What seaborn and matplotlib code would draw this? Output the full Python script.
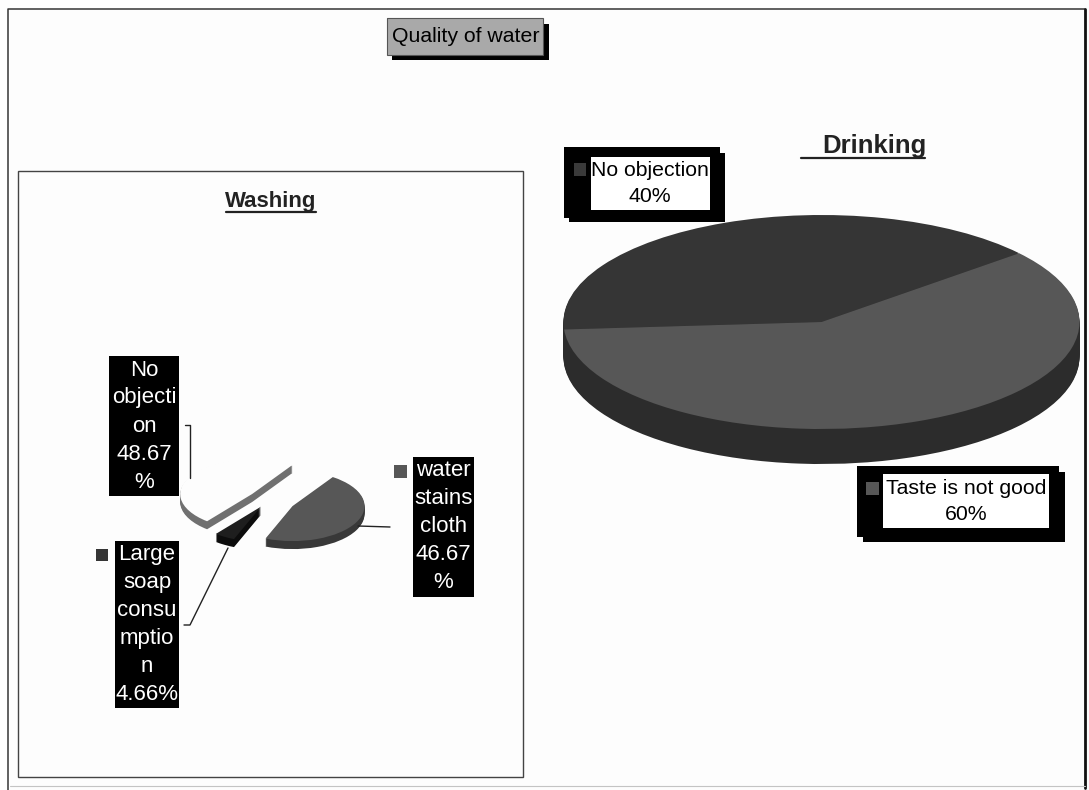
import numpy as np
import matplotlib
matplotlib.use("Agg")
import matplotlib.pyplot as plt
from matplotlib.patches import Rectangle
import seaborn as sns

sns.set_theme(style="white")
plt.rcParams["font.family"] = ["Liberation Sans", "DejaVu Sans"]

# Survey shares, in percent
drinking_labels = ["No objection", "Taste is not good"]
drinking_values = [40, 60]
washing_labels = ["water stains cloth", "Large soap consumption", "No objection"]
washing_values = [46.67, 4.66, 48.67]

W, H = 1089, 790
PAPER = "#fdfdfd"
GREY = "#575757"
DARK = "#353535"

fig = plt.figure(figsize=(W / 100, H / 100), dpi=100, facecolor=PAPER)

# Overlay in pixel units for frames, label boxes and leader lines
page = fig.add_axes([0, 0, 1, 1], zorder=3)
page.set_xlim(0, W)
page.set_ylim(H, 0)
page.axis("off")
page.patch.set_alpha(0)


def pie3d(cx, cy, rx, ry, depth, values, start, tops, sides, explode=None, ccw=True):
    """Tilted pie: an ordinary pie stretched to an ellipse, extruded downward."""
    pad = 1.5 if explode is not None else 1.0
    d = depth / ry
    left, top = cx - rx * pad, cy - ry * pad
    width, height = 2 * rx * pad, ry * (2 * pad + d)
    ax = fig.add_axes([left / W, 1 - (top + height) / H, width / W, height / H], zorder=1)
    for offset in np.linspace(d, 0, max(int(depth) + 1, 2))[:-1]:
        ax.pie(values, startangle=start, counterclock=ccw, colors=sides,
               explode=explode, center=(0, -offset), wedgeprops={"linewidth": 0})
    ax.pie(values, startangle=start, counterclock=ccw, colors=tops,
           explode=explode, wedgeprops={"linewidth": 0})
    ax.set_aspect("auto")
    ax.set_xlim(-pad, pad)
    ax.set_ylim(-pad - d, pad)
    return ax


def box(x0, y0, x1, y1, color, z=1, **kw):
    page.add_patch(Rectangle((x0, y0), x1 - x0, y1 - y0, facecolor=color, linewidth=0, zorder=z, **kw))


def label(x, y, s, color="black", size=15.3, **kw):
    page.text(x, y, s, color=color, fontsize=size, ha="center", va="center", zorder=6, **kw)


# Outer and inner frames
page.plot([8, 8, 1085], [790, 9, 9], color="#333333", lw=1.1, zorder=2)
page.plot([1085, 1085], [9, 788], color="#111111", lw=2.0, zorder=2)
page.plot([10, 1085], [786, 786], color="#c4c4c4", lw=0.8, zorder=2)
page.add_patch(Rectangle((18, 171), 505, 606, fill=False, edgecolor="#444444", linewidth=1.0, zorder=2))

# Main heading
box(392, 24, 549, 60, "black", 1)
box(387, 18, 543, 55, "#a9a9a9", 2)
page.add_patch(Rectangle((387, 18), 156, 37, fill=False, edgecolor="#555555", linewidth=0.8, zorder=3))
label(466, 37, "Quality of water", size=15.3)

# Drinking pie
pie3d(821.5, 322, 258, 107, 35, drinking_values, 40, [DARK, GREY], ["#2c2c2c", "#2c2c2c"])
label(874, 146, "Drinking", size=18.5, fontweight="bold", color="#222222")
page.plot([801, 925], [158, 158], color="#222222", lw=1.6, zorder=6)

# Drinking labels
box(569, 153, 725, 222, "black", 4)
box(564, 147, 720, 218, "black", 4)
box(591, 157, 710, 210, "white", 5)
box(574, 163, 586, 176, "#3a3a3a", 5)
label(650, 170, drinking_labels[0])
label(650, 197, f"{drinking_values[0]}%")

box(863, 472, 1065, 542, "black", 4)
box(857, 466, 1059, 537, "black", 4)
box(883, 474, 1049, 528, "white", 5)
box(866, 482, 879, 495, GREY, 5)
label(966, 488, drinking_labels[1])
label(966, 515, f"{drinking_values[1]}%")

# Washing pie with separated slices; the no-objection slice has an unfilled top
pie3d(269, 500, 72, 35, 8, washing_values, 56,
      [GREY, "#1e1e1e", PAPER], ["#383838", "#0c0c0c", "#707070"],
      explode=[0.37, 0.22, 0.29], ccw=False)
label(271, 201, "Washing", size=16, fontweight="bold", color="#222222")
page.plot([226, 316], [212, 212], color="#222222", lw=1.6, zorder=6)


def stack(x0, y0, x1, y1, lines):
    box(x0, y0, x1, y1, "black", 4)
    step = (y1 - y0) / len(lines)
    for i, s in enumerate(lines):
        label((x0 + x1) / 2, y0 + step * (i + 0.5), s, color="white", size=16)


stack(109, 356, 179, 496, ["No", "objecti", "on", f"{washing_values[2]:.2f}", "%"])
stack(413, 457, 474, 597, ["water", "stains", "cloth", f"{washing_values[0]:.2f}", "%"])
stack(115, 541, 179, 708, ["Large", "soap", "consu", "mptio", "n", f"{washing_values[1]:.2f}%"])
box(394, 465, 407, 478, GREY, 5)
box(96, 549, 108, 561, DARK, 5)

# Leader lines
page.plot([185, 190, 190], [425, 425, 478], color="#222222", lw=1.0, zorder=5)
page.plot([358, 390], [526, 527], color="#222222", lw=1.0, zorder=5)
page.plot([184, 190, 228], [625, 625, 548], color="#222222", lw=1.0, zorder=5)

fig.savefig("out.png", dpi=100, facecolor=PAPER)
